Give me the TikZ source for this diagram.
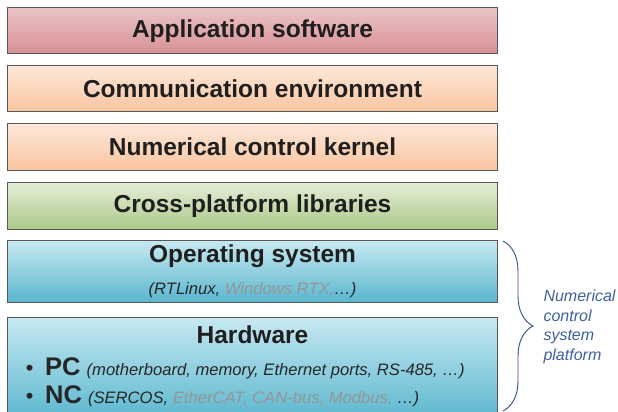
\documentclass[tikz,border=0pt]{standalone}
\usepackage{fontspec}
\setmainfont{Liberation Sans}
\usetikzlibrary{decorations.pathreplacing}
\definecolor{apptop}{HTML}{EAC4C6}
\definecolor{appbot}{HTML}{D89095}
\definecolor{peachtop}{HTML}{FDE7D8}
\definecolor{peachbot}{HTML}{F9C5A0}
\definecolor{greentop}{HTML}{E4EDD6}
\definecolor{greenbot}{HTML}{ACC98A}
\definecolor{bluetop}{HTML}{C6E8F1}
\definecolor{bluebot}{HTML}{58B6CE}
\definecolor{framecol}{HTML}{5A5656}
\definecolor{bracecol}{HTML}{2F4C8C}
\definecolor{notecol}{HTML}{3D5FA6}
\definecolor{greytext}{HTML}{959595}
\tikzset{
  layer/.style={draw=framecol, line width=1pt, minimum width=490pt, minimum height=46.5pt, inner sep=0pt},
  title/.style={font=\bfseries\fontsize{24.5}{28}\selectfont, text=black!88},
  sub/.style={font=\itshape\fontsize{16.6}{19}\selectfont, text=black!85},
}
\begin{document}
\begin{tikzpicture}[x=1pt,y=1pt]
    \useasboundingbox (0,0) rectangle (618,412);
    \begin{scope}
      \clip (0,0) rectangle (618,412);
      % software layers
      \node[layer, top color=apptop, bottom color=appbot] (app) at (252.5,381.25) {};
      \node[layer, top color=peachtop, bottom color=peachbot] (comm) at (252.5,323.25) {};
      \node[layer, top color=peachtop, bottom color=peachbot] (kernel) at (252.5,265) {};
      \node[layer, top color=greentop, bottom color=greenbot] (cross) at (252.5,206) {};
      % platform layers
      \node[layer, minimum height=62pt, top color=bluetop, bottom color=bluebot] (os) at (252.5,140) {};
      \node[layer, minimum height=104pt, top color=bluetop, bottom color=bluebot] (hw) at (252.5,42) {};
    \end{scope}
    \node[title] at (app.center) {Application software};
    \node[title] at (comm.center) {Communication environment};
    \node[title] at (kernel.center) {Numerical control kernel};
    \node[title] at (cross.center) {Cross-platform libraries};
    \node[title] (ostitle) at (252.5,156) {Operating system};
    \node[sub] (ossub) at (252.5,122) {(RTLinux, \textcolor{greytext}{Windows RTX,}\dots)};
    \node[title] (hwtitle) at (252.5,77) {Hardware};
    \node[sub, anchor=west] (pcline) at (22,44)
      {{\fontsize{22}{26}\selectfont\textbullet}\hspace{12pt}{\bfseries\fontsize{25.5}{28}\selectfont\upshape PC}\hspace{6pt}(motherboard, memory, Ethernet ports, RS-485, \dots)};
    \node[sub, anchor=west] (ncline) at (22,16)
      {{\fontsize{22}{26}\selectfont\textbullet}\hspace{12pt}{\bfseries\fontsize{25.5}{28}\selectfont\upshape NC}\hspace{6pt}(SERCOS, \textcolor{greytext}{EtherCAT, CAN-bus, Modbus,} \dots)};
    % brace round the platform
    \coordinate (bracetop) at (503,171);
    \coordinate (bracebot) at (503,1);
    \draw[bracecol, line width=0.9pt, decorate, decoration={brace, amplitude=30pt, raise=0pt}] (bracetop) -- (bracebot);
    \node[anchor=west, align=left, font=\itshape\fontsize{16}{19.5}\selectfont, text=notecol] (note) at (540,85)
      {Numerical\\control\\system\\platform};
\end{tikzpicture}
\end{document}
